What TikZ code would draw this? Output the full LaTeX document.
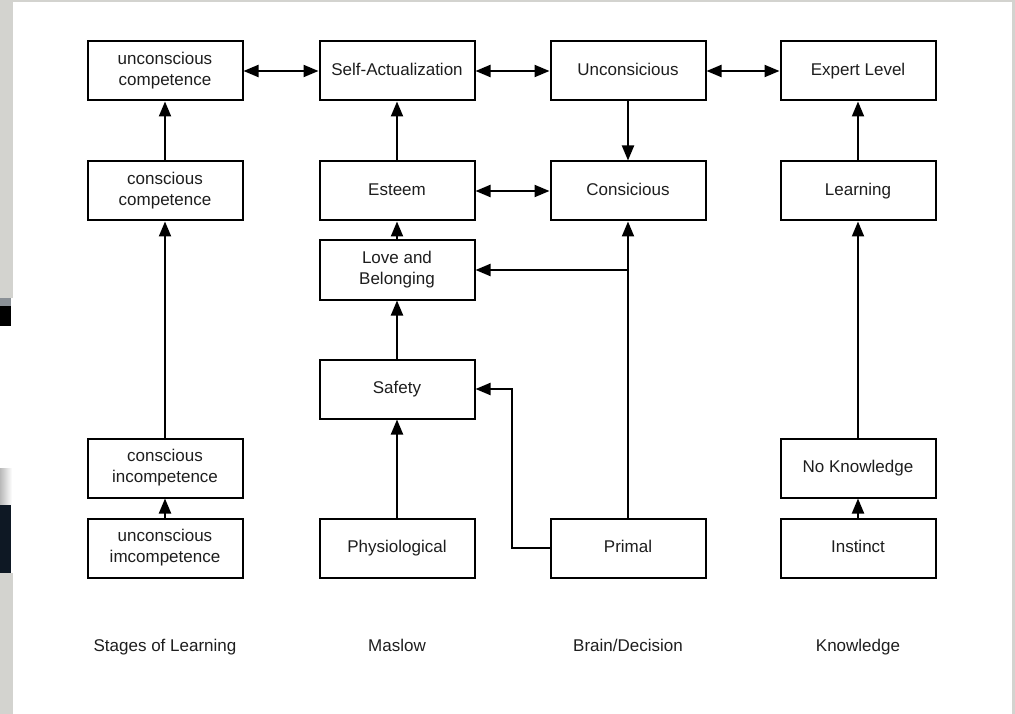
\documentclass[tikz,border=0pt]{standalone}
\usepackage{fontspec}
\setmainfont{Liberation Sans}
\usetikzlibrary{arrows.meta}
\definecolor{framegrey}{HTML}{D3D3CF}
\definecolor{inkgrey}{HTML}{1E1E1E}
\definecolor{navy}{HTML}{0E1824}
\definecolor{midgrey}{HTML}{8A9096}
\tikzset{
  box/.style={draw=black, line width=2pt, fill=white, minimum width=155pt,
    minimum height=59pt, align=center, text=inkgrey, inner sep=2pt,
    font=\fontsize{17}{21}\selectfont},
  oneline/.style={text height=12pt, text depth=3pt},
  caption/.style={text=inkgrey, font=\fontsize{17}{21}\selectfont,
    text height=12pt, text depth=3pt},
  link/.style={draw=black, line width=2pt,
    >={Triangle[length=15pt,width=12pt]}},
}
\begin{document}
\begin{tikzpicture}[x=1pt,y=-1pt]
\useasboundingbox (0,0) rectangle (1015,714);
% page and frame
\fill[white] (0,0) rectangle (1015,714);
\fill[framegrey] (0,0) rectangle (1015,2);
\fill[framegrey] (1012,0) rectangle (1015,714);
\fill[framegrey] (0,0) rectangle (12.5,298);
\fill[midgrey] (0,298) rectangle (11,306);
\fill[black] (0,306) rectangle (11,326);
\shade[left color=gray!55, right color=white] (0,468) rectangle (12,504);
\fill[navy] (0,505) rectangle (11,573);
\fill[framegrey] (0,573) rectangle (12.5,714);

% column: stages of learning
\node[box] (uc) at (165,71) {unconscious\\competence};
\node[box] (cc) at (165,191) {conscious\\competence};
\node[box] (ci) at (165,468) {conscious\\incompetence};
\node[box] (ui) at (165,548) {unconscious\\imcompetence};
% column: Maslow
\node[box,oneline] (sa) at (397,71) {Self-Actualization};
\node[box,oneline] (es) at (397,191) {Esteem};
\node[box] (lb) at (397,270) {Love and\\Belonging};
\node[box,oneline] (sf) at (397,389) {Safety};
\node[box,oneline] (ph) at (397,548) {Physiological};
% column: brain/decision
\node[box,oneline] (un) at (628,71) {Unconsicious};
\node[box,oneline] (co) at (628,191) {Consicious};
\node[box,oneline] (pr) at (628,548) {Primal};
% column: knowledge
\node[box,oneline] (ex) at (858,71) {Expert Level};
\node[box,oneline] (le) at (858,191) {Learning};
\node[box,oneline] (nk) at (858,468) {No Knowledge};
\node[box,oneline] (in) at (858,548) {Instinct};

% column captions
\node[caption] (c1) at (165,647) {Stages of Learning};
\node[caption] (c2) at (397,647) {Maslow};
\node[caption] (c3) at (628,647) {Brain/Decision};
\node[caption] (c4) at (858,647) {Knowledge};

% top row links
\draw[link,<->] (uc.east) -- (sa.west);
\draw[link,<->] (sa.east) -- (un.west);
\draw[link,<->] (un.east) -- (ex.west);
\draw[link,<->] (es.east) -- (co.west);
\draw[link,->] (un.south) -- (co.north);

% vertical chains
\draw[link,->] (ui.north) -- (ci.south);
\draw[link,->] (ci.north) -- (cc.south);
\draw[link,->] (cc.north) -- (uc.south);
\draw[link,->] (ph.north) -- (sf.south);
\draw[link,->] (sf.north) -- (lb.south);
\draw[link,->] (lb.north) -- (es.south);
\draw[link,->] (es.north) -- (sa.south);
\draw[link,->] (in.north) -- (nk.south);
\draw[link,->] (nk.north) -- (le.south);
\draw[link,->] (le.north) -- (ex.south);

% primal branches
\draw[link,->] (pr.north) -- (co.south);
\coordinate (tee) at (pr.north |- lb.east);
\draw[link,->] (tee) -- (lb.east);
\coordinate (bend) at (512,548);
\draw[link,->] (pr.west) -- (bend) |- (sf.east);
\end{tikzpicture}
\end{document}
